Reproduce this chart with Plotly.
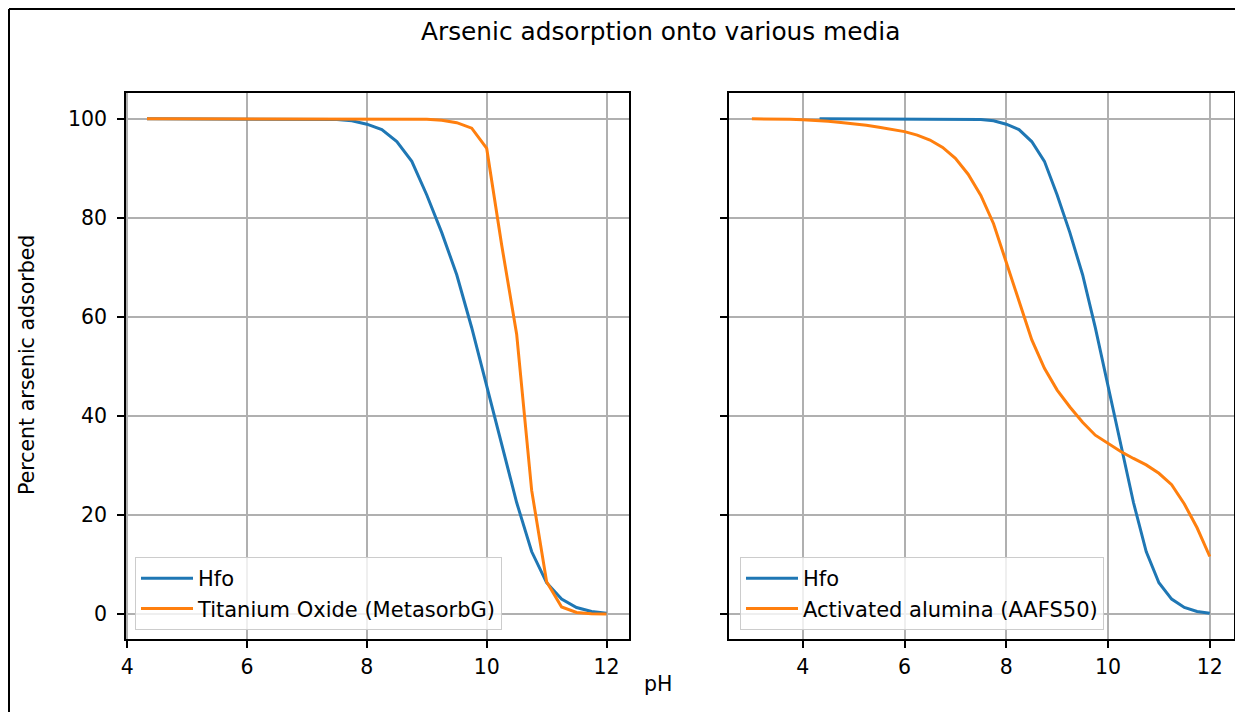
import plotly.graph_objects as go

# ---- data ----
ph_hfo = [4.33, 4.5, 4.75, 5.0, 5.25, 5.5, 5.75, 6.0, 6.25, 6.5, 6.75, 7.0, 7.25, 7.5, 7.75,
          8.0, 8.25, 8.5, 8.75, 9.0, 9.25, 9.5, 9.75, 10.0, 10.25, 10.5, 10.75, 11.0, 11.25,
          11.5, 11.75, 12.0]
hfo = [100, 100, 100, 100, 100, 100, 100, 100, 100, 100, 100, 100, 99.95, 99.85, 99.6,
       98.9, 97.8, 95.4, 91.4, 84.6, 77.0, 68.5, 57.8, 46.0, 34.0, 22.5, 12.6, 6.3, 3.0,
       1.3, 0.5, 0.15]
tio = [100, 100, 100, 100, 100, 100, 100, 100, 100, 100, 100, 100, 100, 100, 100,
       100, 100, 100, 99.98, 99.9, 99.7, 99.2, 98.1, 94.0, 74.5, 56.5, 25.0, 6.5, 1.4,
       0.3, 0.05, 0.0]

ph_aa = [3.0, 3.25, 3.5, 3.75, 4.0, 4.25, 4.5, 4.75, 5.0, 5.25, 5.5, 5.75, 6.0, 6.25, 6.5,
         6.75, 7.0, 7.25, 7.5, 7.75, 8.0, 8.25, 8.5, 8.75, 9.0, 9.25, 9.5, 9.75, 10.0, 10.25,
         10.5, 10.75, 11.0, 11.25, 11.5, 11.75, 12.0]
aa = [100, 99.99, 99.95, 99.9, 99.8, 99.7, 99.5, 99.25, 99.0, 98.7, 98.3, 97.9, 97.4, 96.7,
      95.7, 94.2, 92.0, 88.8, 84.5, 78.8, 71.0, 63.2, 55.4, 49.6, 45.2, 41.8, 38.7, 36.1,
      34.4, 32.8, 31.4, 30.1, 28.4, 26.1, 22.2, 17.4, 11.6]

title = "Arsenic adsorption onto various media"
xlabel = "pH"
ylabel = "Percent arsenic adsorbed"
names_left = ["Hfo", "Titanium Oxide (MetasorbG)"]
names_right = ["Hfo", "Activated alumina (AAFS50)"]
xticks = [4, 6, 8, 10, 12]
yticks = [0, 20, 40, 60, 80, 100]

OFF = 8  # page body margin
W, H = 1243 - OFF, 712 - OFF
BLUE, ORANGE = "#1f77b4", "#ff7f0e"
FONT = "DejaVu Sans"

def px(x):
    return (x - OFF) / W

def py(y):
    return 1 - (y - OFF) / H

fig = go.Figure()
fig.add_trace(go.Scatter(x=ph_hfo, y=hfo, mode="lines", name=names_left[0],
                         line=dict(color=BLUE, width=3), xaxis="x", yaxis="y", legend="legend"))
fig.add_trace(go.Scatter(x=ph_hfo, y=tio, mode="lines", name=names_left[1],
                         line=dict(color=ORANGE, width=3), xaxis="x", yaxis="y", legend="legend"))
fig.add_trace(go.Scatter(x=ph_hfo, y=hfo, mode="lines", name=names_right[0],
                         line=dict(color=BLUE, width=3), xaxis="x2", yaxis="y2", legend="legend2"))
fig.add_trace(go.Scatter(x=ph_aa, y=aa, mode="lines", name=names_right[1],
                         line=dict(color=ORANGE, width=3), xaxis="x2", yaxis="y2", legend="legend2"))

axis_common = dict(showline=True, mirror=True, linecolor="black", linewidth=1.6,
                   ticks="outside", ticklen=7, tickwidth=1.6, tickcolor="black",
                   showgrid=True, gridcolor="#b0b0b0", gridwidth=1.6, zeroline=False,
                   automargin=False, tickfont=dict(family=FONT, size=20.5, color="black"))

ydom = [py(638.7), py(93)]
legend_common = dict(xanchor="left", yanchor="bottom",
                     bgcolor="rgba(255,255,255,0.8)", bordercolor="#cccccc", borderwidth=1,
                     font=dict(family=FONT, size=21, color="black"), tracegroupgap=0,
                     itemwidth=52)
fig.update_layout(
    width=W, height=H,
    margin=dict(l=0, r=0, t=0, b=0),
    paper_bgcolor="white", plot_bgcolor="white",
    font=dict(family=FONT, size=20.5, color="black"),
    xaxis=dict(domain=[px(126), px(628.7)], range=[3.98, 12.37], tickvals=xticks,
               anchor="y", ticklabelstandoff=2, **axis_common),
    yaxis=dict(domain=ydom, range=[-5, 105.2], tickvals=yticks, anchor="x",
               ticklabelstandoff=6, **axis_common),
    xaxis2=dict(domain=[px(729), px(1233.7)], range=[2.55, 12.47], tickvals=xticks,
                anchor="y2", ticklabelstandoff=2, **axis_common),
    yaxis2=dict(domain=ydom, range=[-5, 105.2], tickvals=yticks, anchor="x2",
                showticklabels=False, **axis_common),
    legend=dict(x=px(135), y=py(630), **legend_common),
    legend2=dict(x=px(740), y=py(630), **legend_common),
    showlegend=True,
)

fig.add_annotation(text=title, x=px(660.5), y=py(32), xref="paper", yref="paper",
                   xanchor="center", yanchor="middle", showarrow=False,
                   font=dict(family=FONT, size=24.8, color="black"))
fig.add_annotation(text=xlabel, x=px(658), y=py(684), xref="paper", yref="paper",
                   xanchor="center", yanchor="middle", showarrow=False,
                   font=dict(family=FONT, size=20.5, color="black"))
fig.add_annotation(text=ylabel, x=px(27), y=py(365), xref="paper", yref="paper",
                   xanchor="center", yanchor="middle", showarrow=False, textangle=-90,
                   font=dict(family=FONT, size=20.5, color="black"))

# image frame lines (left and top)
fig.add_shape(type="line", xref="paper", yref="paper", x0=px(9), x1=px(9), y0=0, y1=py(9),
              line=dict(color="black", width=2))
fig.add_shape(type="line", xref="paper", yref="paper", x0=px(9), x1=1, y0=py(9), y1=py(9),
              line=dict(color="black", width=2))

fig.write_html("out.html")
